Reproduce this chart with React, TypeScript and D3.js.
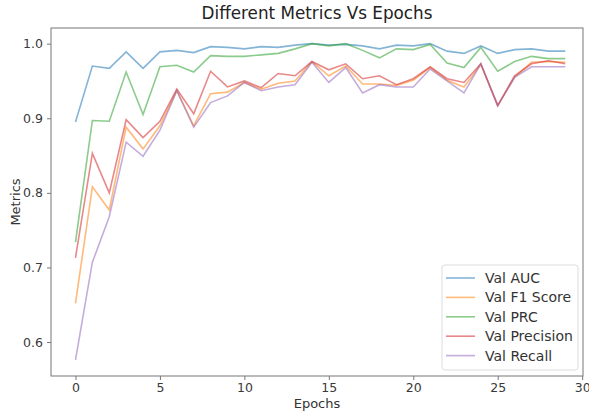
import { useEffect, useRef } from "react";
import { select, scaleLinear, line, axisBottom, axisLeft, format } from "d3";

const epochs = [0, 1, 2, 3, 4, 5, 6, 7, 8, 9, 10, 11, 12, 13, 14, 15, 16, 17, 18, 19, 20, 21, 22, 23, 24, 25, 26, 27, 28, 29];

const valAuc = [0.895, 0.970, 0.967, 0.989, 0.967, 0.989, 0.991, 0.988, 0.996, 0.995, 0.993, 0.996, 0.995, 0.998, 1.0, 0.998, 0.999, 0.997, 0.993, 0.998, 0.997, 1.0, 0.990, 0.987, 0.997, 0.987, 0.992, 0.993, 0.990, 0.990];
const valF1 = [0.652, 0.808, 0.777, 0.888, 0.859, 0.890, 0.937, 0.890, 0.933, 0.935, 0.948, 0.939, 0.947, 0.950, 0.976, 0.957, 0.970, 0.946, 0.946, 0.944, 0.951, 0.968, 0.951, 0.942, 0.972, 0.917, 0.955, 0.975, 0.976, 0.975];
const valPrc = [0.734, 0.897, 0.896, 0.962, 0.905, 0.969, 0.971, 0.962, 0.984, 0.983, 0.983, 0.985, 0.987, 0.993, 1.0, 0.997, 1.0, 0.991, 0.981, 0.993, 0.992, 0.999, 0.974, 0.968, 0.995, 0.963, 0.976, 0.983, 0.980, 0.980];
const valPrecision = [0.713, 0.853, 0.800, 0.898, 0.874, 0.896, 0.939, 0.906, 0.963, 0.942, 0.950, 0.941, 0.960, 0.957, 0.976, 0.965, 0.973, 0.953, 0.957, 0.945, 0.953, 0.969, 0.953, 0.948, 0.973, 0.917, 0.957, 0.973, 0.977, 0.973];
const valRecall = [0.576, 0.707, 0.768, 0.868, 0.849, 0.884, 0.937, 0.888, 0.921, 0.930, 0.948, 0.937, 0.942, 0.945, 0.975, 0.948, 0.968, 0.934, 0.945, 0.942, 0.942, 0.966, 0.950, 0.934, 0.973, 0.917, 0.955, 0.969, 0.969, 0.969];

const seriesNames = ["Val AUC", "Val F1 Score", "Val PRC", "Val Precision", "Val Recall"];
const seriesColors = ["#1f77b4", "#ff7f0e", "#2ca02c", "#d62728", "#9467bd"];

const xTicks = [0, 5, 10, 15, 20, 25, 30];
const yTicks = [0.6, 0.7, 0.8, 0.9, 1.0];

function App() {
    const svgRef = useRef(null);

    useEffect(() => {
        const Width = 589;
        const Height = 411;
        const Margin = { top: 28, right: 6, bottom: 35, left: 51 };
        const font = "'DejaVu Sans', sans-serif";

        const svg = select(svgRef.current);
        svg.selectAll("*").remove();

        const xScale = scaleLinear()
            .domain([-1.45, 30.05])
            .range([Margin.left, Width - Margin.right]);
        const yScale = scaleLinear()
            .domain([0.5545, 1.021])
            .range([Height - Margin.bottom, Margin.top]);

        const allSeries = [valAuc, valF1, valPrc, valPrecision, valRecall];

        // lines
        const myLine = line()
            .x((d) => xScale(d[0]))
            .y((d) => yScale(d[1]));

        allSeries.forEach((values, i) => {
            svg.append("path")
                .datum(epochs.map((e, j) => [e, values[j]]))
                .attr("d", myLine)
                .style("fill", "none")
                .style("stroke", seriesColors[i])
                .style("stroke-opacity", 0.55)
                .style("stroke-width", 1.6);
        });

        // frame
        svg.append("rect")
            .attr("x", Margin.left)
            .attr("y", Margin.top)
            .attr("width", Width - Margin.right - Margin.left)
            .attr("height", Height - Margin.bottom - Margin.top)
            .style("fill", "none")
            .style("stroke", "#777")
            .style("stroke-width", 1);

        // axes
        const xAxis = axisBottom(xScale).tickValues(xTicks).tickSize(4).tickSizeOuter(0).tickPadding(3).tickFormat(format("d"));
        svg.append("g")
            .attr("transform", "translate(0," + (Height - Margin.bottom) + ")")
            .style("color", "#777")
            .call(xAxis)
            .call((g) => g.select(".domain").remove());

        const yAxis = axisLeft(yScale).tickValues(yTicks).tickSize(4).tickSizeOuter(0).tickPadding(4).tickFormat(format(".1f"));
        svg.append("g")
            .attr("transform", "translate(" + Margin.left + ",0)")
            .style("color", "#777")
            .call(yAxis)
            .call((g) => g.select(".domain").remove());

        svg.selectAll(".tick text")
            .attr("fill", "#3a3a3a")
            .style("font-family", font)
            .style("font-size", "12.5px");

        // labels
        svg.append("text")
            .attr("x", (Margin.left + Width - Margin.right) / 2)
            .attr("y", 19)
            .attr("text-anchor", "middle")
            .attr("fill", "#222")
            .style("font-family", font)
            .style("font-size", "16.8px")
            .text("Different Metrics Vs Epochs");

        svg.append("text")
            .attr("x", (Margin.left + Width - Margin.right) / 2)
            .attr("y", 408)
            .attr("text-anchor", "middle")
            .attr("fill", "#333")
            .style("font-family", font)
            .style("font-size", "13px")
            .text("Epochs");

        svg.append("text")
            .attr("transform", "translate(20," + (Margin.top + Height - Margin.bottom) / 2 + ") rotate(-90)")
            .attr("text-anchor", "middle")
            .attr("fill", "#333")
            .style("font-family", font)
            .style("font-size", "13px")
            .text("Metrics");

        // legend
        const legend = svg.append("g").attr("transform", "translate(442,265)");
        legend.append("rect")
            .attr("width", 136)
            .attr("height", 105)
            .attr("rx", 3)
            .style("fill", "white")
            .style("fill-opacity", 0.8)
            .style("stroke", "#ddd");

        seriesNames.forEach((name, i) => {
            const y = 13 + i * 19.4;
            legend.append("line")
                .attr("x1", 4)
                .attr("x2", 33)
                .attr("y1", y)
                .attr("y2", y)
                .style("stroke", seriesColors[i])
                .style("stroke-opacity", 0.55)
                .style("stroke-width", 1.6);
            legend.append("text")
                .attr("x", 43)
                .attr("y", y + 5)
                .attr("fill", "#333")
                .style("font-family", font)
                .style("font-size", "14px")
                .text(name);
        });
    }, []);

    return (
        <div style={{ position: "absolute", left: 0, top: 0 }}>
            <svg ref={svgRef} width={589} height={411} style={{ display: "block", background: "white" }}></svg>
        </div>
    );
}

export default App;
